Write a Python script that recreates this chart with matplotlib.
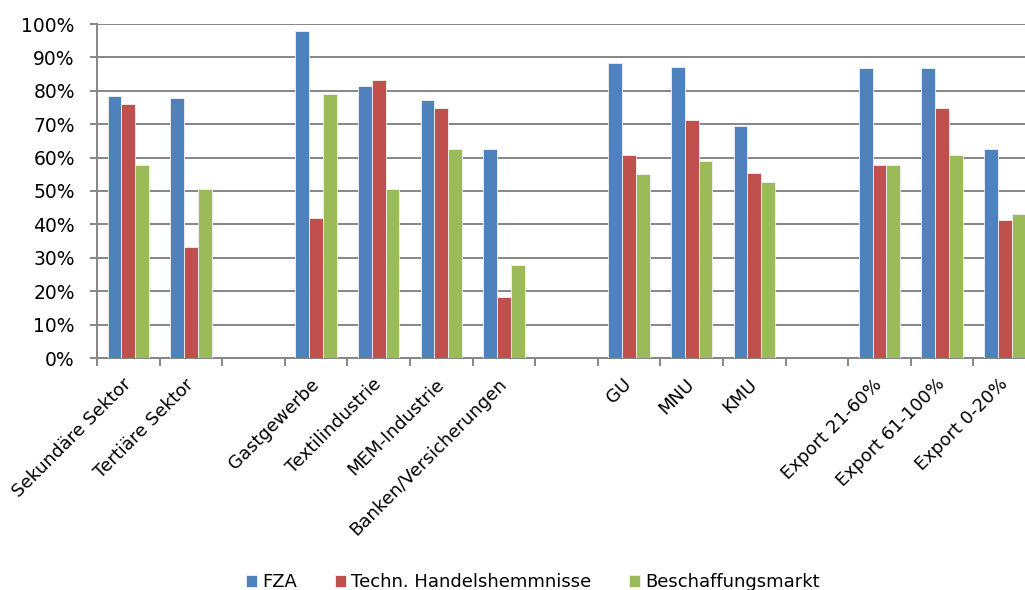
import numpy as np
import matplotlib
matplotlib.use("Agg")
import matplotlib.pyplot as plt
from matplotlib.ticker import PercentFormatter, MultipleLocator

categories = ["Sekundäre Sektor", "Tertiäre Sektor", "", "Gastgewerbe", "Textilindustrie",
              "MEM-Industrie", "Banken/Versicherungen", "", "GU", "MNU", "KMU", "",
              "Export 21-60%", "Export 61-100%", "Export 0-20%"]
nan = np.nan
fza = [78.4, 77.8, nan, 97.8, 81.4, 77.3, 62.5, nan, 88.4, 87.2, 69.6, nan, 86.7, 86.7, 62.5]
handel = [76.1, 33.1, nan, 41.9, 83.2, 74.9, 18.4, nan, 60.8, 71.4, 55.5, nan, 57.8, 74.9, 41.3]
beschaffung = [57.8, 50.7, nan, 79.0, 50.7, 62.5, 27.7, nan, 55.0, 59.0, 52.6, nan, 57.8, 60.8, 43.1]
series_names = ["FZA", "Techn. Handelshemmnisse", "Beschaffungsmarkt"]
colors = ["#4F81BD", "#C0504D", "#9BBB59"]

plt.rcParams['font.family'] = ['DejaVu Sans']
fig = plt.figure(figsize=(10.25, 5.9), dpi=100)
ax = fig.add_axes([97/1025, 1 - 358/590, 939/1025, 334/590])

x = np.arange(len(categories))
w = 0.22
handles = []
for i, (vals, c, name) in enumerate(zip([fza, handel, beschaffung], colors, series_names)):
    b = ax.bar(x + (i - 1) * w, np.array(vals), width=w, color=c, edgecolor="#F2F2F2",
               linewidth=0.6, label=name, zorder=3)
    handles.append(b)

ax.set_xlim(-0.5, len(categories) - 0.5)
ax.set_ylim(0, 100)
ax.yaxis.set_major_locator(MultipleLocator(10))
ax.yaxis.set_major_formatter(PercentFormatter(decimals=0))
ax.grid(axis='y', color="#868686", linewidth=1.4, zorder=0)
ax.set_axisbelow(True)

ax.set_xticks(np.arange(len(categories) + 1) - 0.5, minor=False)
ax.set_xticklabels([])
ax.set_xticks(x, minor=True)
ax.set_xticklabels(categories, minor=True, rotation=45, ha='right', va='center',
                   rotation_mode='anchor', fontsize=13)
ax.tick_params(axis='x', which='minor', length=0, pad=17)
ax.tick_params(axis='x', which='major', length=6, width=1.4, color="#868686", direction='out')
ax.tick_params(axis='y', length=5, width=1.4, color="#868686", labelsize=13.5, pad=11)

for s in ["top", "right"]:
    ax.spines[s].set_visible(False)
for s in ["left", "bottom"]:
    ax.spines[s].set_color("#868686")
    ax.spines[s].set_linewidth(1.4)

fig.legend(handles=handles, labels=series_names, loc='lower center', ncol=3,
           bbox_to_anchor=(0.52, -0.03), frameon=False, fontsize=13,
           handlelength=0.6, handleheight=0.6, handletextpad=0.3, columnspacing=2.1)

fig.savefig("out.png", dpi=100)
